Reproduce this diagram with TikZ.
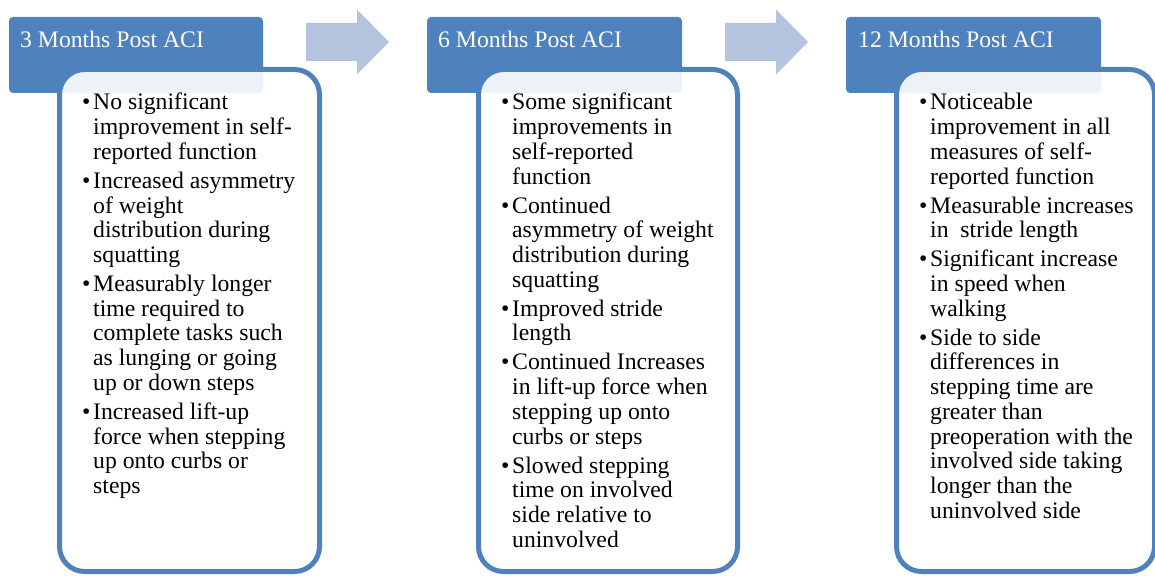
\documentclass[tikz,border=0pt]{standalone}
\usepackage{fontspec}
\setmainfont{Liberation Serif}
\definecolor{hdrblue}{RGB}{79,129,189}
\definecolor{arrowblue}{RGB}{180,196,223}
\newcommand\bitem[1]{\hangindent=11pt\hangafter=1\makebox[11pt][l]{\textbullet}#1\par}
\newenvironment{bodylist}{\begin{minipage}[t]{250pt}\setlength{\parindent}{0pt}\setlength{\parskip}{4.3pt}\fontsize{23.7}{24.7}\selectfont}{\end{minipage}}
\begin{document}
\begin{tikzpicture}[x=1pt,y=-1pt,
  header/.style={fill=hdrblue,draw=none,rounded corners=4pt},
  bodybox/.style={draw=hdrblue,line width=5pt,fill=white,fill opacity=0.9,rounded corners=25pt},
  htext/.style={anchor=base west,inner sep=0pt,text=white,font=\fontsize{23.7}{24.7}\selectfont},
  btext/.style={anchor=base west,inner sep=0pt,text=black},
  flowarrow/.style={fill=arrowblue,draw=none}]
\useasboundingbox (0,0) rectangle (1155,575);
% headers
\path[header] (9,17) rectangle (263,93);
\path[header] (427,17) rectangle (682,93);
\path[header] (846,17) rectangle (1101,93);
% arrows
\path[flowarrow] (306,23) -- (357,23) -- (357,9.5) -- (389,42) -- (357,74.5) -- (357,61) -- (306,61) -- cycle;
\path[flowarrow] (725,23) -- (776,23) -- (776,9.5) -- (808,42) -- (776,74.5) -- (776,61) -- (725,61) -- cycle;
% bodies
\path[bodybox] (59.5,69.5) rectangle (319.5,571.5);
\path[bodybox] (478.5,69.5) rectangle (737.5,571.5);
\path[bodybox] (896.5,69.5) rectangle (1154.5,571.5);
% header texts
\node[htext] (h1) at (20,48) {3 Months Post ACI};
\node[htext] (h2) at (438,48) {6 Months Post ACI};
\node[htext] (h3) at (858,48) {12 Months Post ACI};
% body texts
\node[btext] (b1) at (82,110) {\begin{bodylist}
\bitem{No significant\\improvement in self-\\reported function}
\bitem{Increased asymmetry\\of weight\\distribution during\\squatting}
\bitem{Measurably longer\\time required to\\complete tasks such\\as lunging or going\\up or down steps}
\bitem{Increased lift-up\\force when stepping\\up onto curbs or\\steps}
\end{bodylist}};
\node[btext] (b2) at (501,110) {\begin{bodylist}
\bitem{Some significant\\improvements in\\self-reported\\function}
\bitem{Continued\\asymmetry of weight\\distribution during\\squatting}
\bitem{Improved stride\\length}
\bitem{Continued Increases\\in lift-up force when\\stepping up onto\\curbs or steps}
\bitem{Slowed stepping\\time on involved\\side relative to\\uninvolved}
\end{bodylist}};
\node[btext] (b3) at (919,110) {\begin{bodylist}
\bitem{Noticeable\\improvement in all\\measures of self-\\reported function}
\bitem{Measurable increases\\in\ \ stride length}
\bitem{Significant increase\\in speed when\\walking}
\bitem{Side to side\\differences in\\stepping time are\\greater than\\preoperation with the\\involved side taking\\longer than the\\uninvolved side}
\end{bodylist}};
\end{tikzpicture}
\end{document}
